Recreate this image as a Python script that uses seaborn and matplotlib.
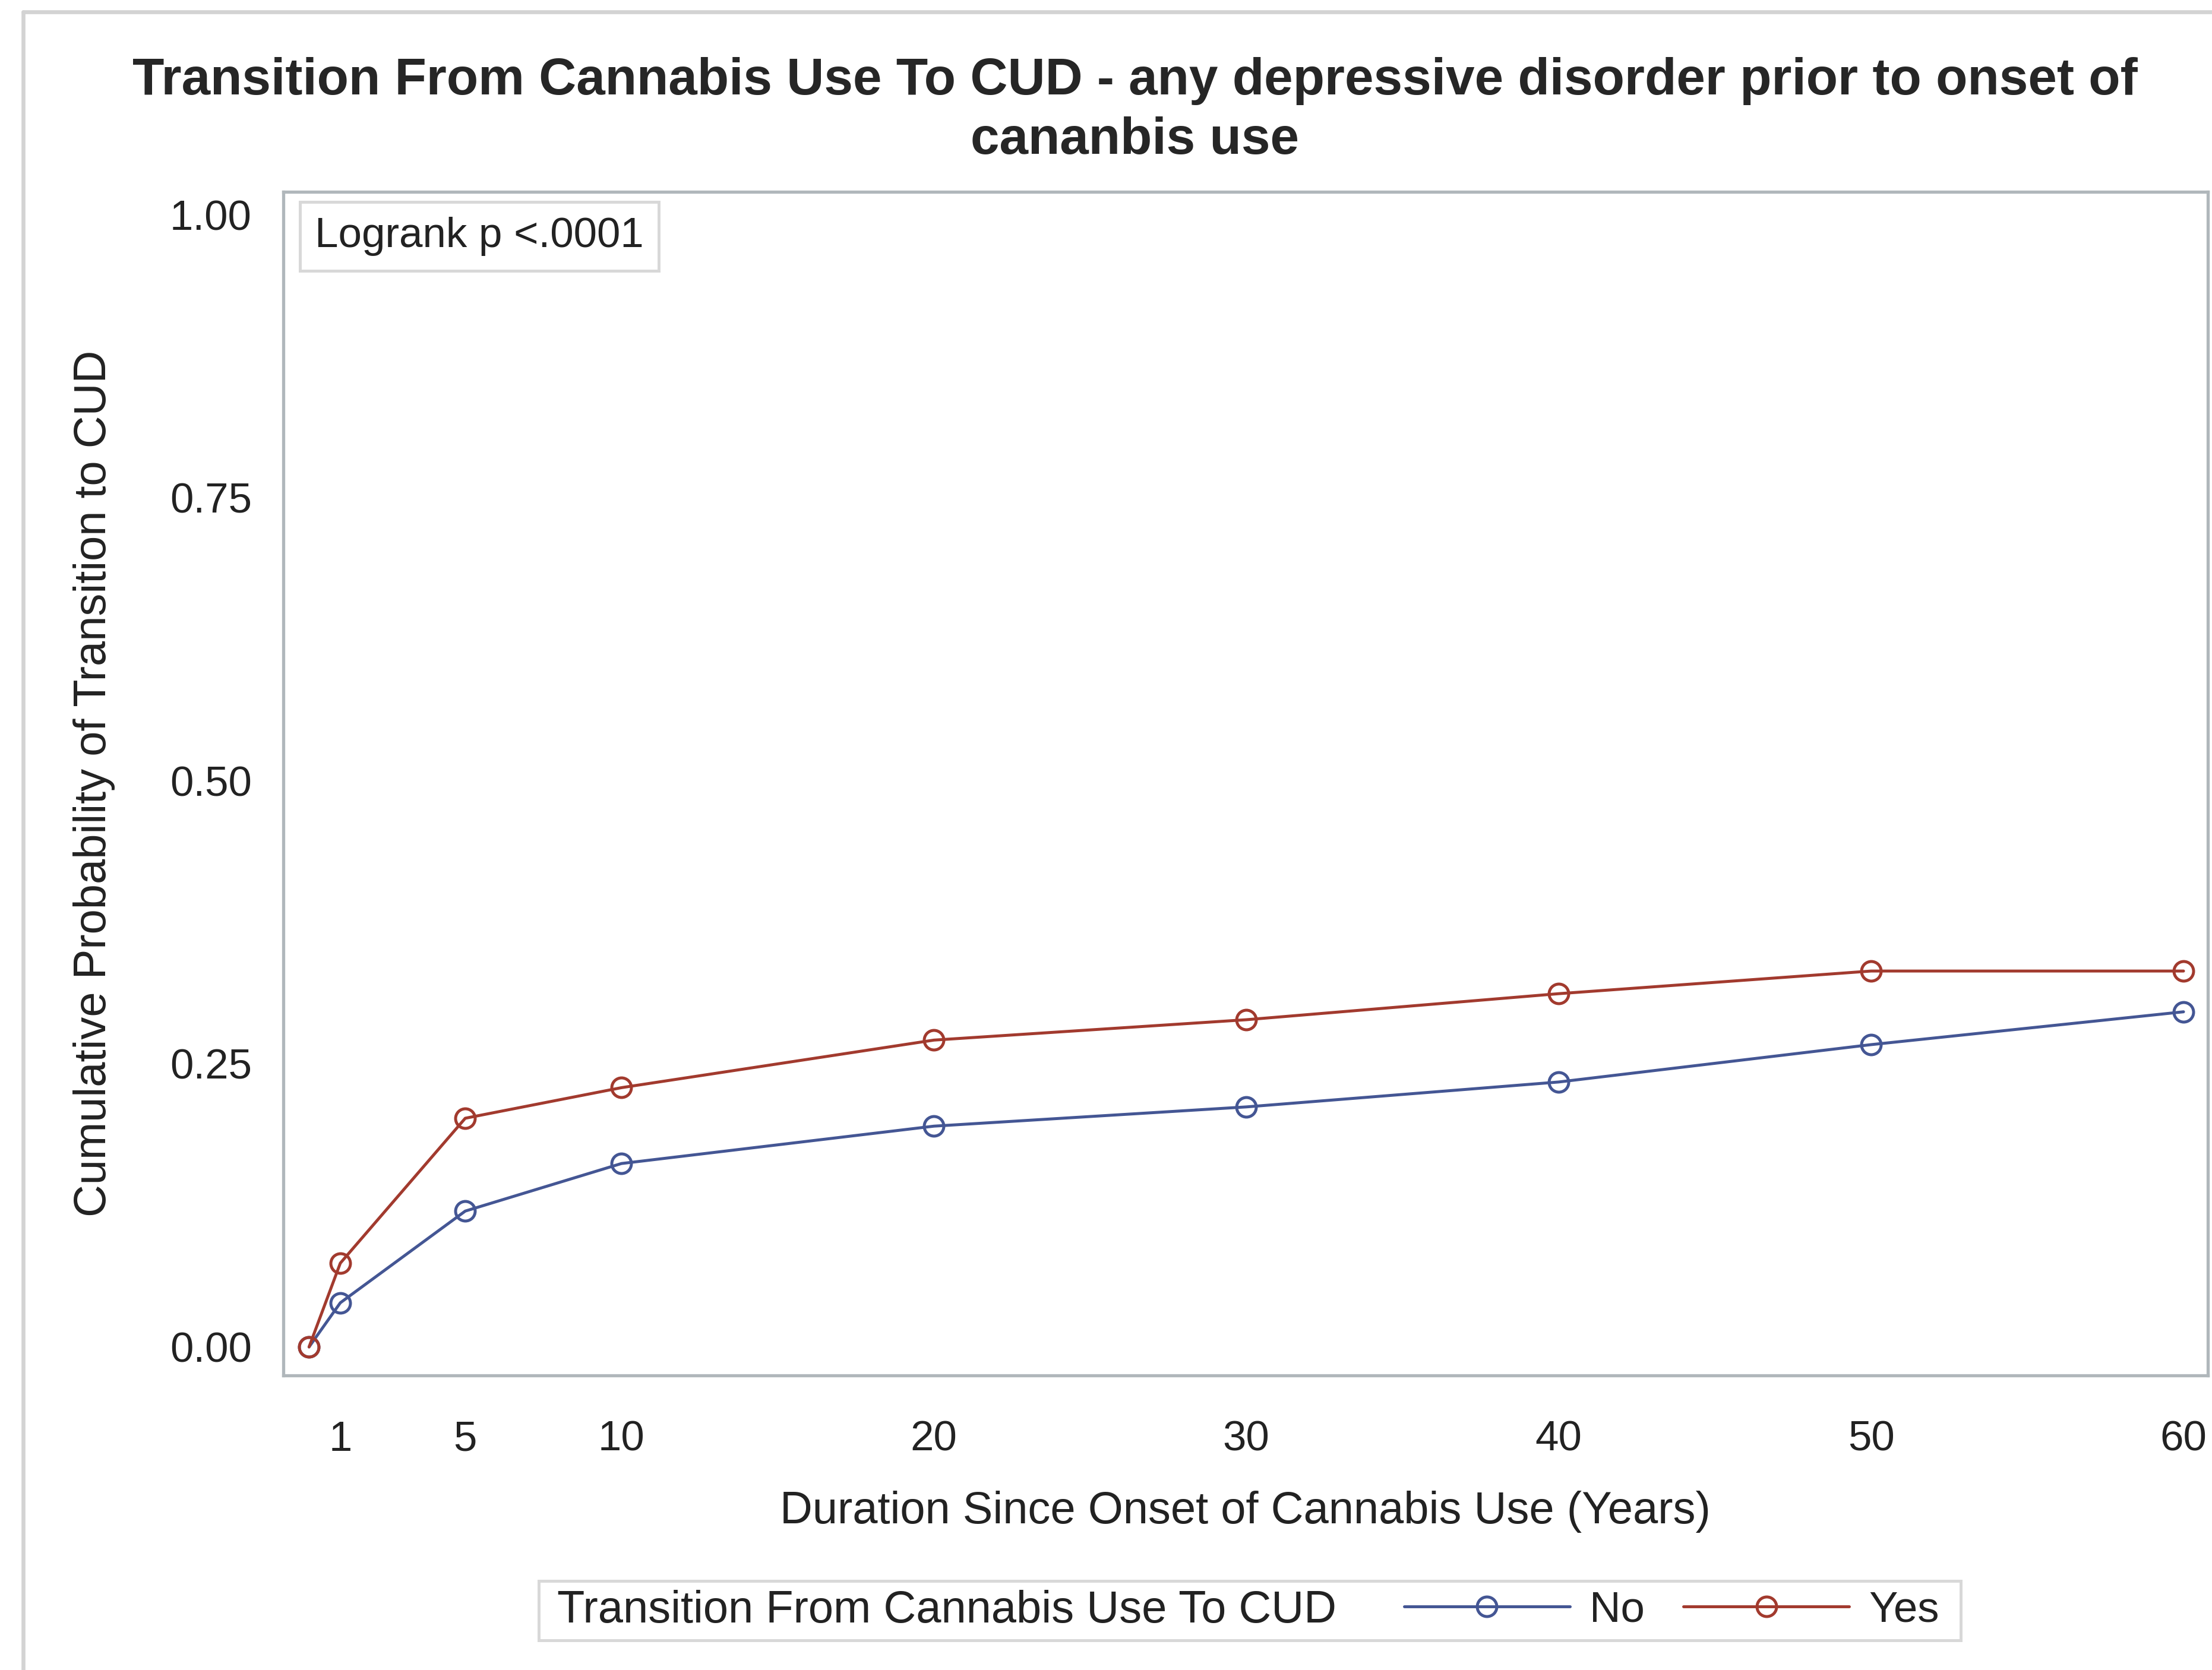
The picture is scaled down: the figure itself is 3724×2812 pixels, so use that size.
import numpy as np
import pandas as pd
import matplotlib
matplotlib.use('Agg')
import matplotlib.pyplot as plt
import seaborn as sns
from matplotlib.lines import Line2D
from matplotlib.patches import Rectangle

# years since onset of cannabis use
years = [0, 1, 5, 10, 20, 30, 40, 50, 60]
# cumulative probability of transition to CUD
prob_no = [0.0, 0.039, 0.120, 0.162, 0.195, 0.212, 0.234, 0.267, 0.296]
prob_yes = [0.0, 0.074, 0.202, 0.229, 0.271, 0.289, 0.312, 0.332, 0.332]
groups = ['No', 'Yes']
x_ticks = [1, 5, 10, 20, 30, 40, 50, 60]
y_ticks = [0.0, 0.25, 0.5, 0.75, 1.0]

df = pd.DataFrame({
    'years': years * 2,
    'prob': prob_no + prob_yes,
    'group': [groups[0]] * len(years) + [groups[1]] * len(years),
})

sns.set_style('white')
plt.rcParams['font.family'] = ['Liberation Sans', 'DejaVu Sans']

palette = {'No': '#445694', 'Yes': '#A23A2E'}
grey = '#B0B7BB'
txt = '#222222'

fig = plt.figure(figsize=(15.68, 11.84), dpi=237.5)
ax = fig.add_axes([0.128, 0.1765, 0.870, 0.7085])

sns.lineplot(data=df, x='years', y='prob', hue='group', palette=palette,
             marker='o', markersize=10, markerfacecolor='none', markeredgewidth=1.5,
             linewidth=1.5, legend=False, ax=ax)
for line in ax.lines:
    line.set_markeredgecolor(line.get_color())

ax.set_xlim(-0.83, 60.77)
ax.set_ylim(-0.025, 1.02)
ax.set_xticks(x_ticks)
ax.set_xticklabels([str(t) for t in x_ticks])
ax.set_yticks(y_ticks)
ax.set_yticklabels([f'{t:.2f}' for t in y_ticks])
ax.tick_params(axis='both', direction='out', length=9, width=1.5, color=grey,
               labelsize=21.5, labelcolor=txt, pad=7)
ax.tick_params(axis='x', pad=14)
for s in ax.spines.values():
    s.set_color(grey)
    s.set_linewidth(1.6)

ax.set_xlabel('Duration Since Onset of Cannabis Use (Years)', fontsize=23, labelpad=16, color=txt)
ax.set_ylabel('Cumulative Probability of Transition to CUD', fontsize=23, labelpad=28, color=txt)

ax.text(0.0165, 0.979, 'Logrank p <.0001', transform=ax.transAxes, fontsize=21.5,
        ha='left', va='top', color=txt,
        bbox=dict(boxstyle='square,pad=0.35', facecolor='white', edgecolor='#D8D8D8', linewidth=1.5))

fig.text(0.513, 0.966, 'Transition From Cannabis Use To CUD - any depressive disorder prior to onset of\ncananbis use',
         ha='center', va='top', fontsize=26.5, fontweight='bold', linespacing=1.3)

# outer frame of the graph
fig.add_artist(Line2D([0.0105, 0.0105], [0, 0.993], transform=fig.transFigure, color='#D3D3D3', linewidth=2))
fig.add_artist(Line2D([0.0105, 1.0], [0.993, 0.993], transform=fig.transFigure, color='#D3D3D3', linewidth=2))

# legend at bottom
fig.add_artist(Rectangle((382 / 1568, 1 - 1163 / 1184), (1390 - 382) / 1568, 42 / 1184,
                         transform=fig.transFigure, facecolor='white', edgecolor='#D8D8D8', linewidth=1.5))
fig.text(395 / 1568, 1 - 1142 / 1184, 'Transition From Cannabis Use To CUD', fontsize=23,
         ha='left', va='center', color=txt)
handles = [Line2D([], [], color=palette[g], marker='o', markersize=10, markerfacecolor='none',
                  markeredgewidth=1.5, linewidth=1.5) for g in groups]
fig.legend(handles, groups, loc='center left', bbox_to_anchor=(980 / 1568, 1 - 1142 / 1184),
           ncol=2, frameon=False, fontsize=22, handlelength=3.85, handletextpad=0.45,
           columnspacing=0.9, borderpad=0, labelcolor=txt)

fig.savefig('out.png', dpi=237.5)
